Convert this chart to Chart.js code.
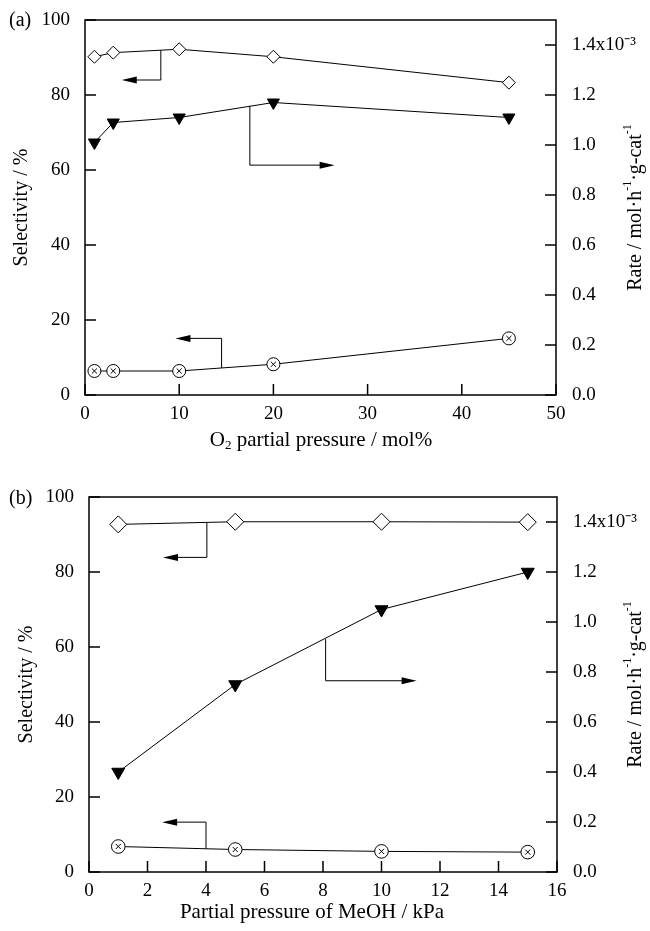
<!DOCTYPE html>
<html>
<head>
<meta charset="utf-8">
<script src="https://cdn.jsdelivr.net/npm/chart.js@4.4.1/dist/chart.umd.min.js"></script>
<style>
  html, body { margin: 0; padding: 0; background: #fff; }
  #page { position: relative; width: 650px; height: 931px; font-family: "Liberation Serif", serif; color: #000; }
  .panel { position: absolute; left: 0; width: 650px; }
  #pa { top: 0; height: 460px; }
  #pb { top: 460px; height: 471px; }
  .tag { position: absolute; left: 9px; font-size: 20px; line-height: 20px; }
</style>
</head>
<body>
<div id="page">
  <div class="panel" id="pa"><canvas id="ca"></canvas></div>
  <div class="panel" id="pb"><canvas id="cb"></canvas></div>
  <div class="tag" style="top:9px">(a)</div>
  <div class="tag" style="top:487px">(b)</div>
</div>
<script>
/* two stacked dual-axis panels: selectivity (left, %) and rate (right, x10^-3) */

// ---- panel (a): O2 partial pressure ----
var O2_X       = [1, 3, 10, 20, 45];
var O2_SEL_HI  = [90.2, 91.3, 92.2, 90.2, 83.3];   // open diamonds
var O2_SEL_LO  = [6.4, 6.4, 6.4, 8.2, 15.1];       // crossed circles
var O2_RATE    = [1.01, 1.09, 1.11, 1.17, 1.11];   // filled triangles (x10^-3)
var O2_TICKS_X = [0, 10, 20, 30, 40, 50];
// callout arrows, left-axis units: [x, yStart, yEnd, xTip]
var O2_ARROWS  = [[8.05, 91.95, 84.0, 3.9], [17.5, 77.1, 61.3, 26.5], [14.5, 7.2, 15.1, 9.6]];

// ---- panel (b): MeOH partial pressure ----
var ME_X       = [1, 5, 10, 15];
var ME_SEL_HI  = [92.7, 93.4, 93.4, 93.3];
var ME_SEL_LO  = [6.8, 6.0, 5.5, 5.3];
var ME_RATE    = [0.40, 0.75, 1.05, 1.20];
var ME_TICKS_X = [0, 2, 4, 6, 8, 10, 12, 14, 16];
var ME_ARROWS  = [[4.03, 93.2, 83.9, 2.53], [8.09, 62.1, 51.0, 11.2], [4.0, 6.2, 13.3, 2.5]];

var SEL_TICKS  = [0, 20, 40, 60, 80, 100];
var RATE_TICKS = [0, 0.2, 0.4, 0.6, 0.8, 1.0, 1.2, 1.4];

(function () {
  "use strict";
  var FONT = '"Liberation Serif", "Times New Roman", serif';
  var TICK_FONT = { family: FONT, size: 19 };
  var TL = 11;   // inward tick length

  function pts(xs, ys) { return xs.map(function (x, i) { return { x: x, y: ys[i] }; }); }

  // text with raised/lowered pieces: parts = [[text, 0|1|-1], ...]
  function drawRich(ctx, parts, cx, cy, size, rot) {
    var small = Math.round(size * 0.62);
    var w = 0;
    parts.forEach(function (p) {
      ctx.font = (p[1] ? small : size) + "px " + FONT;
      p.w = ctx.measureText(p[0]).width; w += p.w;
    });
    ctx.save();
    ctx.translate(cx, cy);
    if (rot) ctx.rotate(rot);
    ctx.fillStyle = "#000";
    ctx.textBaseline = "middle";
    ctx.textAlign = "left";
    var x = -w / 2;
    parts.forEach(function (p) {
      ctx.font = (p[1] ? small : size) + "px " + FONT;
      var dy = p[1] === 1 ? -size * 0.42 : (p[1] === -1 ? size * 0.28 : 0);
      ctx.fillText(p[0], x, dy);
      x += p.w;
    });
    ctx.restore();
  }

  function arrowHead(ctx, x, y, dir) {
    var len = 15, hw = 3.5;
    ctx.beginPath();
    ctx.moveTo(x, y);
    ctx.lineTo(x - dir * len, y - hw);
    ctx.lineTo(x - dir * len, y + hw);
    ctx.closePath();
    ctx.fill();
  }

  var framePlugin = {
    id: "frame",
    afterDraw: function (chart, args, o) {
      var ctx = chart.ctx, a = chart.chartArea;
      var sx = chart.scales.x, sy = chart.scales.y, sr = chart.scales.y2;
      ctx.save();
      ctx.strokeStyle = "#000"; ctx.fillStyle = "#000";
      ctx.lineWidth = 1.5;
      ctx.strokeRect(a.left, a.top, a.right - a.left, a.bottom - a.top);
      ctx.beginPath();
      sx.ticks.forEach(function (t) {
        var px = sx.getPixelForValue(t.value);
        ctx.moveTo(px, a.bottom); ctx.lineTo(px, a.bottom - TL);
      });
      sy.ticks.forEach(function (t) {
        var py = sy.getPixelForValue(t.value);
        ctx.moveTo(a.left, py); ctx.lineTo(a.left + TL, py);
      });
      sr.ticks.forEach(function (t) {
        var py = sr.getPixelForValue(t.value);
        ctx.moveTo(a.right, py); ctx.lineTo(a.right - TL, py);
      });
      ctx.stroke();

      // callouts
      ctx.lineWidth = 1;
      o.arrows.forEach(function (r) {
        var x = sx.getPixelForValue(r[0]);
        var y0 = sy.getPixelForValue(r[1]), y1 = sy.getPixelForValue(r[2]);
        var xt = sx.getPixelForValue(r[3]);
        var dir = xt < x ? -1 : 1;
        ctx.beginPath();
        ctx.moveTo(x, y0); ctx.lineTo(x, y1); ctx.lineTo(xt - dir * 12, y1);
        ctx.stroke();
        arrowHead(ctx, xt, y1, dir);
      });
      ctx.restore();

      var midY = (a.top + a.bottom) / 2;
      drawRich(ctx, o.xTitle, o.xTitleX, o.xTitleY, 21, 0);
      drawRich(ctx, [["Selectivity / %", 0]], o.leftX, midY, 20, -Math.PI / 2);
      drawRich(ctx, [["Rate / mol\u00b7h", 0], ["-1", 1], ["\u00b7g-cat", 0], ["-1", 1]],
               636, midY, 20, -Math.PI / 2);
    }
  };

  function panel(id, cfg) {
    var line = { borderColor: "#000", borderWidth: 1, tension: 0, pointBorderColor: "#000", pointBorderWidth: 1 };
    function ds(extra) { return Object.assign({}, line, extra); }
    new Chart(document.getElementById(id), {
      type: "line",
      data: {
        datasets: [
          ds({ data: pts(cfg.x, cfg.lo), yAxisID: "y", showLine: false, pointStyle: "crossRot",
               pointRadius: 3.6, pointBackgroundColor: "#000" }),
          ds({ data: pts(cfg.x, cfg.lo), yAxisID: "y", pointStyle: "circle",
               pointRadius: cfg.cr, pointBackgroundColor: "#fff" }),
          ds({ data: pts(cfg.x, cfg.rate), yAxisID: "y2", pointStyle: "triangle", pointRotation: 180,
               pointRadius: cfg.tr, pointBackgroundColor: "#000" }),
          ds({ data: pts(cfg.x, cfg.hi), yAxisID: "y", pointStyle: "rectRot",
               pointRadius: cfg.dr, pointBackgroundColor: "#fff" })
        ]
      },
      options: {
        responsive: true, maintainAspectRatio: false, animation: false,
        layout: { padding: { top: cfg.top, left: 0, right: 0, bottom: 0 } },
        plugins: {
          legend: { display: false }, tooltip: { enabled: false },
          frame: { arrows: cfg.arrows, xTitle: cfg.xTitle, xTitleX: cfg.xTitleX, xTitleY: cfg.xTitleY, leftX: cfg.leftX }
        },
        scales: {
          x: {
            type: "linear", min: cfg.xTicks[0], max: cfg.xTicks[cfg.xTicks.length - 1],
            border: { display: false }, grid: { display: false },
            afterBuildTicks: function (s) { s.ticks = cfg.xTicks.map(function (v) { return { value: v }; }); },
            ticks: { color: "#000", font: TICK_FONT, padding: 0, maxRotation: 0, autoSkip: false },
            afterFit: function (s) { s.height = cfg.xh; }
          },
          y: {
            position: "left", min: 0, max: 100,
            border: { display: false }, grid: { display: false },
            afterBuildTicks: function (s) { s.ticks = SEL_TICKS.map(function (v) { return { value: v }; }); },
            ticks: { color: "#000", font: TICK_FONT, padding: 7 },
            afterFit: function (s) { s.width = cfg.lw; }
          },
          y2: {
            position: "right", min: 0, max: 1.5,
            border: { display: false }, grid: { display: false },
            afterBuildTicks: function (s) { s.ticks = RATE_TICKS.map(function (v) { return { value: v }; }); },
            ticks: {
              color: "#000", font: TICK_FONT, padding: 8,
              callback: function (v) { return Math.abs(v - 1.4) < 1e-9 ? "1.4x10\u207b\u00b3" : Number(v).toFixed(1); }
            },
            afterFit: function (s) { s.width = cfg.rw; }
          }
        }
      },
      plugins: [framePlugin]
    });
  }

  panel("ca", {
    x: O2_X, hi: O2_SEL_HI, lo: O2_SEL_LO, rate: O2_RATE, xTicks: O2_TICKS_X, arrows: O2_ARROWS,
    top: 20, xh: 65, lw: 85, rw: 94, dr: 6.5, tr: 7, cr: 6.5,
    xTitle: [["O", 0], ["2", -1], [" partial pressure / mol%", 0]], xTitleX: 321, xTitleY: 440, leftX: 22
  });
  panel("cb", {
    x: ME_X, hi: ME_SEL_HI, lo: ME_SEL_LO, rate: ME_RATE, xTicks: ME_TICKS_X, arrows: ME_ARROWS,
    top: 37, xh: 59, lw: 89, rw: 93, dr: 8.5, tr: 7.5, cr: 6.8,
    xTitle: [["Partial pressure of MeOH / kPa", 0]], xTitleX: 312, xTitleY: 452, leftX: 27
  });
})();
</script>
</body>
</html>
